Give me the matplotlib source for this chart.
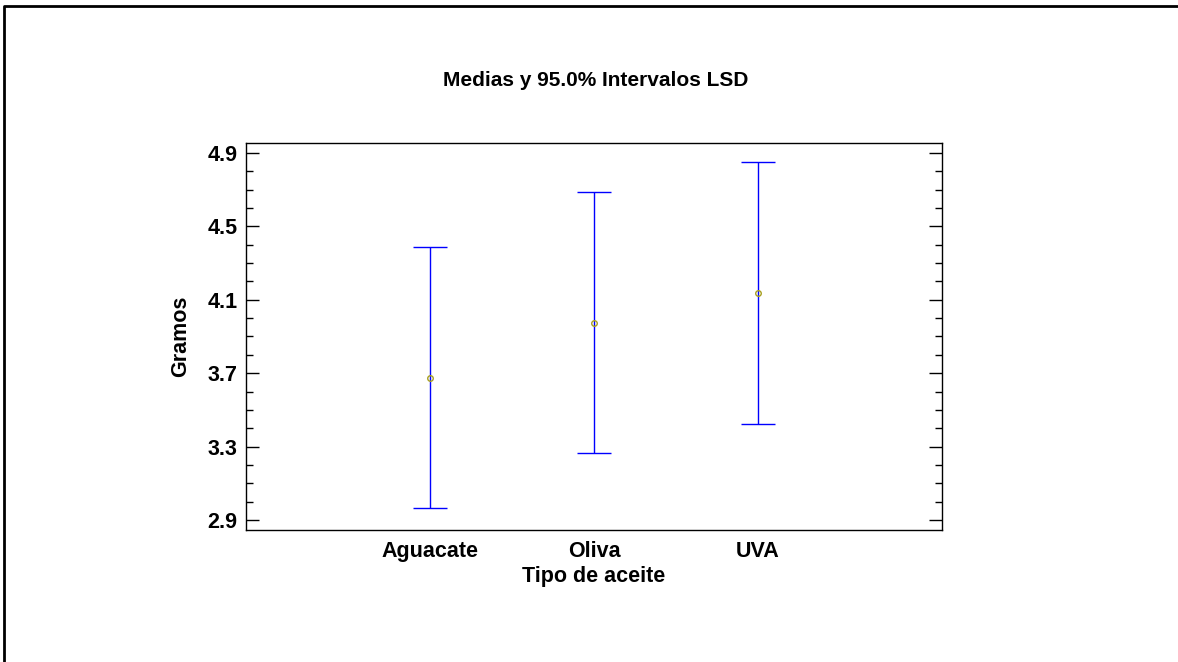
import matplotlib
matplotlib.use("Agg")
import matplotlib.pyplot as plt
from matplotlib.lines import Line2D
from matplotlib.ticker import MultipleLocator

# datos (medias y limites LSD al 95%)
tipos = ["Aguacate", "Oliva", "UVA"]
medias = [3.676, 3.976, 4.137]
limite_inf = [2.965, 3.265, 3.423]
limite_sup = [4.388, 4.687, 4.851]
yticks = [2.9, 3.3, 3.7, 4.1, 4.5, 4.9]

plt.rcParams['font.family'] = ['Liberation Sans', 'DejaVu Sans']

fig = plt.figure(figsize=(11.78, 6.62), dpi=100)
ax = fig.add_axes([246 / 1178, 1 - 530 / 662, 696 / 1178, 387 / 662])

x = [1, 2, 3]
err_lo = [m - lo for m, lo in zip(medias, limite_inf)]
err_hi = [hi - m for m, hi in zip(medias, limite_sup)]
ax.errorbar(x, medias, yerr=[err_lo, err_hi], fmt="none", ecolor="#0000ff",
            elinewidth=1.0, capsize=12, capthick=1.0)
ax.plot(x, medias, "o", ms=4, mfc="none", mec="#a8a020", mew=1.0)

ax.set_xlim(-0.125, 4.125)
ax.set_ylim(2.845, 4.955)
ax.set_xticks(x)
ax.set_xticklabels(tipos, fontsize=15.5, fontweight="bold")
ax.set_yticks(yticks)
ax.set_yticklabels([f"{v:.1f}" for v in yticks], fontsize=15.5, fontweight="bold")
ax.yaxis.set_minor_locator(MultipleLocator(0.1))
ax.tick_params(axis="y", which="both", direction="in", left=True, right=True, pad=6)
ax.tick_params(axis="y", which="major", length=9.5, width=1)
ax.tick_params(axis="y", which="minor", length=5, width=1)
ax.tick_params(axis="x", length=0, pad=8)
for s in ax.spines.values():
    s.set_linewidth(1.0)

ax.set_xlabel("Tipo de aceite", fontsize=15.5, fontweight="bold", labelpad=3)
ax.set_ylabel("Gramos", fontsize=15.5, fontweight="bold", labelpad=12)
fig.text(596 / 1178, 1 - 80 / 662, "Medias y 95.0% Intervalos LSD", ha="center",
         va="center", fontsize=15, fontweight="bold")

# marco exterior
fig.add_artist(Line2D([4 / 1178, 4 / 1178, 1.0], [0.0, 1 - 6 / 662, 1 - 6 / 662],
                      transform=fig.transFigure, color="black", lw=2))

fig.savefig("out.png", dpi=100)
